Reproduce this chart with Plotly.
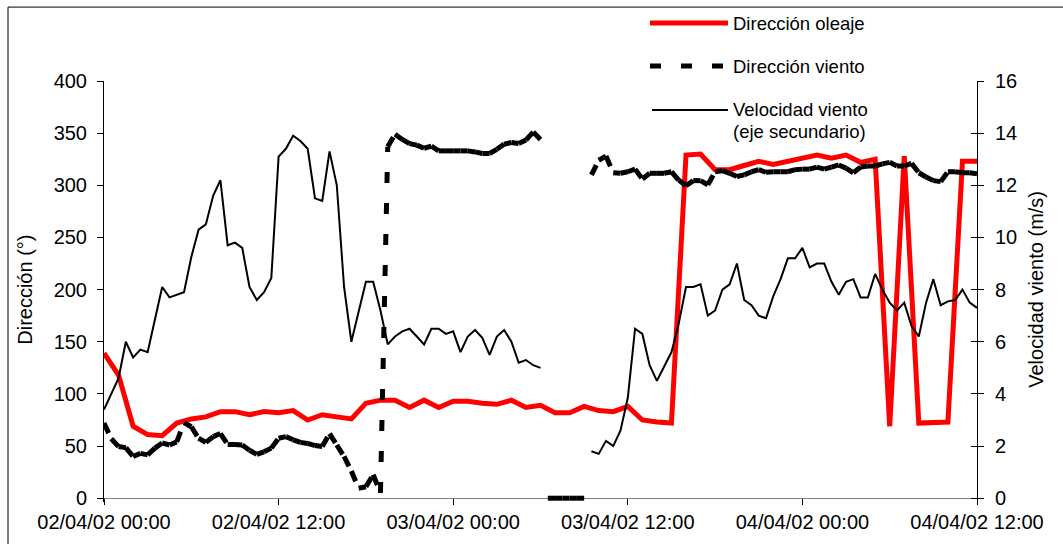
import plotly.graph_objects as go
import pandas as pd

START = "2002-04-02 00:00"
END = "2002-04-04 12:00"

# Wave direction (degrees), hourly readings from 02/04/02 00:00
wave_dir = [139, 118, 69, 61, 60, 72, 76, 78, 83, 83,
            80, 83, 82, 84, 75, 80, 78, 76, 91, 94,
            94, 87, 94, 87, 93, 93, 91, 90, 94, 87,
            89, 82, 82, 88, 84, 83, 88, 75, 73, 72,
            329, 330, 315, 315, 319, 323, 320, 323, 326, 329,
            326, 329, 322, 325, 69, 328, 72, 72, 73, 323,
            323]

# Wind direction (degrees), half-hourly readings; 0 = calm
wind_dir = [72, 57, 49.5, 48.5, 40, 43, 41.5, 48, 53, 51,
            54, 72.5, 68.5, 57.5, 53.5, 59, 62, 51.5, 51.5, 51,
            46, 42, 44.5, 48, 57.5, 59, 56, 53.5, 52.5, 50.5,
            49.5, 62, 51, 40, 26, 9.5, 11, 22.5, 5, 337,
            349, 344, 340, 338.5, 335.5, 337.5, 333, 333, 333, 333,
            333, 332, 330.5, 330.5, 334.5, 339.5, 341, 340, 343.5, 351,
            344, 0, 0, 0, 0, 0, 0, 310, 324, 328,
            312, 311.5, 313, 315.5, 306, 311.5, 311.5, 311.5, 313, 305,
            299.5, 304.5, 304.5, 300.5, 313, 314, 311.5, 308.5, 310, 313,
            315, 312.5, 313, 313, 313, 315, 315.5, 315.5, 317.5, 315.5,
            317.5, 319.5, 316.5, 312, 317.5, 318.5, 318.5, 320.5, 322, 318.5,
            318.5, 321, 312, 308, 304.5, 303.5, 313, 313, 312, 312,
            311]

# Wind speed (m/s), half-hourly readings; None = missing
wind_speed = [3.4, 4.0, 4.6, 6.0, 5.4, 5.7, 5.6, 6.85, 8.1, 7.7,
              7.8, 7.9, 9.25, 10.3, 10.5, 11.6, 12.2, 9.7, 9.8, 9.6,
              8.1, 7.6, 7.9, 8.45, 13.1, 13.4, 13.9, 13.7, 13.4, 11.5,
              11.4, 13.3, 12.0, 8.1, 6.0, 7.1, 8.3, 8.3, 7.2, 5.9,
              6.2, 6.4, 6.5, 6.2, 5.9, 6.5, 6.5, 6.3, 6.4, 5.6,
              6.2, 6.45, 6.15, 5.5, 6.2, 6.45, 6.0, 5.2, 5.3, 5.1,
              5.0, None, None, None, None, None, None, 1.8, 1.7, 2.2,
              2.0, 2.6, 3.85, 6.5, 6.3, 5.1, 4.5, 5.05, 5.6, 6.7,
              8.1, 8.1, 8.2, 7.0, 7.2, 8.0, 8.2, 9.0, 7.6, 7.4,
              7.0, 6.9, 7.75, 8.4, 9.2, 9.2, 9.6, 8.85, 9.0, 9.0,
              8.3, 7.8, 8.3, 8.4, 7.7, 7.7, 8.6, 8.0, 7.5, 7.2,
              7.5, 6.6, 6.2, 7.5, 8.4, 7.4, 7.55, 7.6, 8.0, 7.5,
              7.3]

tick_times = ["2002-04-02 00:00", "2002-04-02 12:00", "2002-04-03 00:00",
              "2002-04-03 12:00", "2002-04-04 00:00", "2002-04-04 12:00"]

legend_labels = ["Dirección oleaje", "Dirección viento",
                 "Velocidad viento", "(eje secundario)"]

DIR_MAX, SPEED_MAX = 400, 16

hourly = pd.date_range(START, periods=len(wave_dir), freq="h").strftime("%Y-%m-%d %H:%M").tolist()
half_hourly = pd.date_range(START, periods=len(wind_dir), freq="30min").strftime("%Y-%m-%d %H:%M").tolist()

# The dashed wind-direction line restarts its dash pattern on every
# segment, so each pair of consecutive readings becomes its own sub-path.
# Calm readings (0) are not joined to directional readings.
seg_x, seg_y = [], []
for i in range(len(wind_dir) - 1):
    a, b = wind_dir[i], wind_dir[i + 1]
    if (a == 0) != (b == 0):
        continue
    seg_x += [half_hourly[i], half_hourly[i + 1], None]
    seg_y += [a, b, None]

# Page geometry (pixels)
W, H = 1063, 544
ML, MR, MT = 104, 86, 81
ZERO_PY = 498.7          # pixel row of the value-0 baseline
MB = 41.5                # plot area runs a few px below the baseline so thick lines at 0 are not cut
PW, PH = W - ML - MR, H - MT - MB
below = (H - MB) - ZERO_PY
dir_min = -below * DIR_MAX / (ZERO_PY - MT)
speed_min = dir_min * SPEED_MAX / DIR_MAX


def fx(px):
    return (px - ML) / PW


def fy(py):
    return (H - MB - py) / PH


FONT = "Liberation Sans, Arial, sans-serif"
DASH = "11px,20px"

fig = go.Figure()

fig.add_trace(go.Scatter(x=hourly, y=wave_dir, mode="lines",
                         line=dict(color="#FF0000", width=5),
                         name=legend_labels[0], showlegend=False))
fig.add_trace(go.Scatter(x=seg_x, y=seg_y, mode="lines",
                         line=dict(color="#000000", width=5, dash=DASH),
                         connectgaps=False,
                         name=legend_labels[1], showlegend=False))
fig.add_trace(go.Scatter(x=half_hourly, y=wind_speed, mode="lines",
                         line=dict(color="#000000", width=2),
                         connectgaps=False, yaxis="y2",
                         name=legend_labels[2], showlegend=False))
# Dummy trace so the inner tick marks of the secondary axis are drawn
fig.add_trace(go.Scatter(x=[START], y=[None], yaxis="y3",
                         showlegend=False, hoverinfo="skip"))

tickfont = dict(family=FONT, size=20, color="#000000")
yaxis_common = dict(showgrid=False, zeroline=False, showline=True,
                    linecolor="#000000", linewidth=1, tickcolor="#000000",
                    tickfont=tickfont)

fig.update_layout(
    width=W, height=H,
    margin=dict(l=ML, r=MR, t=MT, b=MB, pad=0),
    paper_bgcolor="white", plot_bgcolor="white",
    showlegend=False,
    xaxis=dict(type="date", range=[START, END], tickvals=tick_times,
               tickformat="%d/%m/%y %H:%M", ticks="outside", ticklen=6,
               showgrid=False, zeroline=False, showline=True,
               linecolor="#808080", linewidth=1, tickcolor="#000000",
               tickfont=tickfont, anchor="free", position=fy(ZERO_PY),
               layer="below traces"),
    yaxis=dict(range=[dir_min, DIR_MAX], tickvals=list(range(0, 401, 50)),
               ticks="outside", ticklen=6, ticklabelstandoff=6,
               **yaxis_common),
    yaxis2=dict(range=[speed_min, SPEED_MAX], tickvals=list(range(0, 17, 2)),
                overlaying="y", side="right", ticks="outside", ticklen=6,
                ticklabelstandoff=7, **yaxis_common),
    yaxis3=dict(range=[speed_min, SPEED_MAX], tickvals=list(range(0, 17, 2)),
                overlaying="y", side="right", ticks="inside", ticklen=6,
                showticklabels=False, showgrid=False, zeroline=False,
                showline=False, tickcolor="#000000"),
)

shapes = [
    # chart frame
    dict(type="rect", xref="paper", yref="paper",
         x0=fx(8), x1=fx(1090), y0=fy(580), y1=fy(7),
         line=dict(color="#000000", width=1)),
    # legend samples
    dict(type="line", xref="paper", yref="paper",
         x0=fx(650), x1=fx(728), y0=fy(23), y1=fy(23),
         line=dict(color="#FF0000", width=5)),
    dict(type="line", xref="paper", yref="paper",
         x0=fx(650), x1=fx(728), y0=fy(66), y1=fy(66),
         line=dict(color="#000000", width=5, dash=DASH)),
    dict(type="line", xref="paper", yref="paper",
         x0=fx(652), x1=fx(728), y0=fy(110), y1=fy(110),
         line=dict(color="#000000", width=2)),
]
fig.update_layout(shapes=shapes)

annotations = []
for label, py in zip(legend_labels, [23.5, 66.5, 110, 131.5]):
    annotations.append(dict(text=label, xref="paper", yref="paper",
                            x=fx(731), y=fy(py), xanchor="left",
                            yanchor="middle", showarrow=False,
                            font=dict(family=FONT, size=18.5, color="#000000")))

annotations.append(dict(text="Dirección (°)", xref="paper", yref="paper",
                        x=fx(25), y=fy(290), textangle=-90,
                        xanchor="center", yanchor="middle", showarrow=False,
                        font=dict(family=FONT, size=20, color="#000000")))
annotations.append(dict(text="Velocidad viento (m/s)", xref="paper", yref="paper",
                        x=fx(1036), y=fy(290), textangle=-90,
                        xanchor="center", yanchor="middle", showarrow=False,
                        font=dict(family=FONT, size=20, color="#000000")))
fig.update_layout(annotations=annotations)

fig.write_html("out.html")
